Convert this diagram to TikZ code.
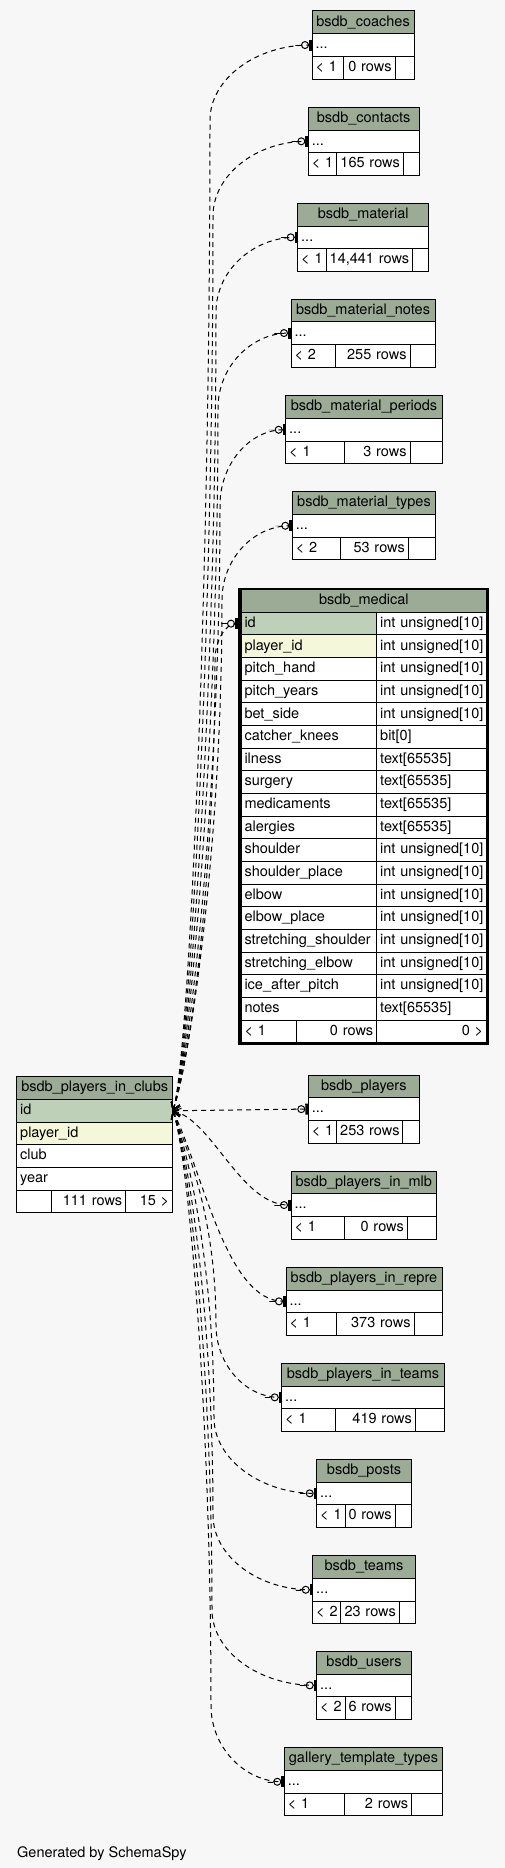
\documentclass[tikz,border=0pt]{standalone}
\usepackage{fontspec}
\setmainfont{TeX Gyre Heros}
\usetikzlibrary{arrows.meta,positioning}
\definecolor{bgfill}{HTML}{F7F7F7}
\definecolor{headfill}{HTML}{9BAB96}
\definecolor{pkfill}{HTML}{BED1B8}
\definecolor{fkfill}{HTML}{F4F7DA}
\tikzset{font=\fontsize{14.5}{16}\selectfont}
\tikzset{
  cell/.style={draw=black, line width=1pt, fill=white, anchor=north west,
    minimum height=22.7pt, inner xsep=3.5pt, inner ysep=0pt, outer sep=0pt,
    text height=10.5pt, text depth=3pt},
  head/.style={cell, fill=headfill, execute at begin node={\hbox to\hsize\bgroup\hfil},
    execute at end node={\hfil\egroup}},
  lcell/.style={cell, execute at begin node={\hbox to\hsize\bgroup},
    execute at end node={\hfil\egroup}},
  rcell/.style={cell, execute at begin node={\hbox to\hsize\bgroup\hfil},
    execute at end node={\egroup}},
  fk/.style={line width=1pt, dash pattern=on 5pt off 4pt,
    arrows={{Straight Barb[length=7pt,width=9pt]}-{Rectangle[length=6pt,width=0.5pt,line width=0.5pt] Circle[open,length=8pt] Bar[width=11pt,line width=3pt]}}},
}

\begin{document}
\begin{tikzpicture}[x=1pt,y=-1pt]
  \fill[bgfill] (0,0) rectangle (505,1868);
  \useasboundingbox (0,0) rectangle (505,1868);

  % small tables on the right
  \foreach \nm/\ttl/\yt/\xl/\xr/\xa/\xb/\lo/\rows in {
    coaches/bsdb\_coaches/11/312/414/343/395/1/0 rows,
    contacts/bsdb\_contacts/107.3/308.3/419/336.7/403.3/1/165 rows,
    material/bsdb\_material/203.3/297.7/428.7/326/412.7/1/{14,441 rows},
    mnotes/bsdb\_material\_notes/299/291/435/335/410/2/255 rows,
    mperiods/bsdb\_material\_periods/395.7/285.7/442.3/344.3/410/1/3 rows,
    mtypes/bsdb\_material\_types/491.7/292.3/435.7/340.7/408.3/2/53 rows,
    players/bsdb\_players/1075/308.3/419.3/336.7/402.7/1/253 rows,
    pmlb/bsdb\_players\_in\_mlb/1171/291/436.7/344.7/407.3/1/0 rows,
    prepre/bsdb\_players\_in\_repre/1267.3/286/442/336.7/414/1/373 rows,
    pteams/bsdb\_players\_in\_teams/1363.3/281.7/444.3/335.7/415.3/1/419 rows,
    posts/bsdb\_posts/1459.3/316.7/411.3/345/395/1/0 rows,
    teams/bsdb\_teams/1555.7/312.7/415.3/340.7/399.3/2/23 rows,
    users/bsdb\_users/1651.3/316.7/411.3/345/395/2/6 rows,
    gallery/gallery\_template\_types/1747.7/284.3/442.7/344.3/411.7/1/2 rows}{
    \pgfmathsetmacro\wA{\xr-\xl-7}
    \pgfmathsetmacro\wB{\xa-\xl-7}
    \pgfmathsetmacro\wC{\xb-\xa-7}
    \pgfmathsetmacro\wD{\xr-\xb-7}
    \node[head, text width=\wA pt] (\nm) at (\xl,\yt) {\ttl};
    \node[lcell, text width=\wA pt] (\nm-dots) at (\nm.south west) {...};
    \node[lcell, text width=\wB pt] (\nm-lo) at (\nm-dots.south west) {< \lo};
    \node[rcell, text width=\wC pt] (\nm-rows) at (\nm-lo.north east) {\rows};
    \node[rcell, text width=\wD pt] (\nm-hi) at (\nm-rows.north east) {};
  }

  % bsdb_medical
  \node[head, text width=238.7pt] (med) at (241,589.6) {bsdb\_medical};
  \foreach \fld/\typ/\fl [count=\i from 0] in {
    id/{int unsigned[10]}/pkfill,
    player\_id/{int unsigned[10]}/fkfill,
    pitch\_hand/{int unsigned[10]}/white,
    pitch\_years/{int unsigned[10]}/white,
    bet\_side/{int unsigned[10]}/white,
    catcher\_knees/{bit[0]}/white,
    ilness/{text[65535]}/white,
    surgery/{text[65535]}/white,
    medicaments/{text[65535]}/white,
    alergies/{text[65535]}/white,
    shoulder/{int unsigned[10]}/white,
    shoulder\_place/{int unsigned[10]}/white,
    elbow/{int unsigned[10]}/white,
    elbow\_place/{int unsigned[10]}/white,
    stretching\_shoulder/{int unsigned[10]}/white,
    stretching\_elbow/{int unsigned[10]}/white,
    ice\_after\_pitch/{int unsigned[10]}/white,
    notes/{text[65535]}/white}{
    \node[lcell, fill=\fl, text width=128.7pt] (med-\i) at (241,612.3+\i*22.65) {\fld};
    \node[lcell, text width=103pt] (med-\i-t) at (med-\i.north east) {\typ};
  }
  \node[lcell, text width=48.7pt] (med-lo) at (med-17.south west) {< 1};
  \node[rcell, text width=73pt] (med-rows) at (med-lo.north east) {0 rows};
  \node[rcell, text width=103pt] (med-hi) at (med-rows.north east) {0 >};
  \draw[line width=2.7pt] (239.7,589) rectangle (488,1044);

  % bsdb_players_in_clubs
  \node[head, text width=149pt] (clubs) at (16.7,1076.7) {bsdb\_players\_in\_clubs};
  \node[lcell, fill=pkfill, text width=149pt] (clubs-id) at (clubs.south west) {id};
  \node[lcell, fill=fkfill, text width=149pt] (clubs-pid) at (clubs-id.south west) {player\_id};
  \node[lcell, text width=149pt] (clubs-club) at (clubs-pid.south west) {club};
  \node[lcell, text width=149pt] (clubs-year) at (clubs-club.south west) {year};
  \node[lcell, text width=27.3pt] (clubs-lo) at (clubs-year.south west) {};
  \node[rcell, text width=67.7pt] (clubs-rows) at (clubs-lo.north east) {111 rows};
  \node[rcell, text width=40pt] (clubs-hi) at (clubs-rows.north east) {15 >};

  % relationships: up the bundle, then a bend into each table
  \foreach \nm/\bx/\by/\sg/\sa/\sb/\hb in {
    coaches/210/120/-1/495/-41/-56, contacts/213/216/-1/447/-41/-52,
    material/216/312/-1/399/-41/-45, mnotes/218/408/-1/351/-41/-40,
    mperiods/220/505/-1/302/-41/-36, mtypes/222/600/-1/255/-41/-39,
    pteams/216/1325/1/-107/40/-36, posts/214/1418/1/-154/41/-56,
    teams/213/1515/1/-202/41/-55, users/212/1610/1/-250/41/-58,
    gallery/211/1706/1/-298/41/-40}{
    \draw[fk] (clubs-id.east) .. controls +(15,\sg*40) and +(0,\sa) .. (\bx,\by)
      .. controls +(0,\sb) and +(\hb,0) .. (\nm-dots.west);
  }
  \draw[fk] (clubs-id.east) .. controls +(15,-40) and +(0,225) .. (215,660)
    .. controls +(0,-20) and +(-12,0) .. ([xshift=-3pt]med-0.west);
  \draw[fk] (clubs-id.east) .. controls +(40,10) and +(-50,0) .. (pmlb-dots.west);
  \draw[fk] (clubs-id.east) .. controls +(30,60) and +(-60,0) .. (prepre-dots.west);
  \draw[fk] (clubs-id.east) -- (players-dots.west);

  \node[anchor=base west, inner sep=0pt] (gen) at (17,1857) {Generated by SchemaSpy};
\end{tikzpicture}
\end{document}
